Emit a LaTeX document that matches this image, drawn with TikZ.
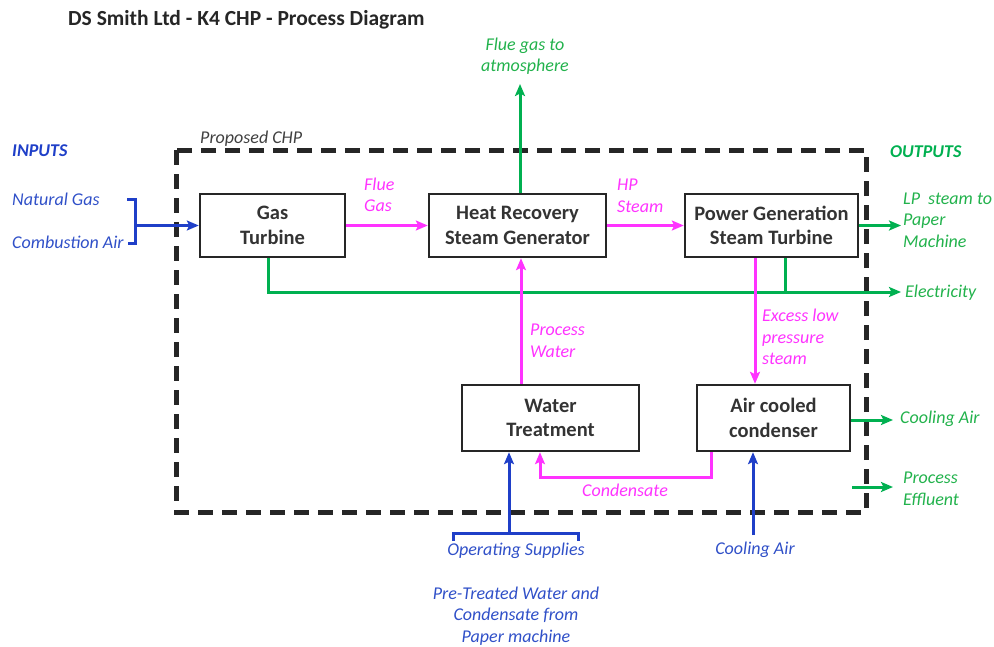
\documentclass[tikz,border=0pt]{standalone}
\usepackage{fontspec}
\setmainfont{Carlito}
\usetikzlibrary{arrows.meta,calc}
\definecolor{cgreen}{HTML}{00B050}
\definecolor{tgreen}{HTML}{22B24C}
\definecolor{cmag}{HTML}{FF33FF}
\definecolor{cblue}{HTML}{1F3FC8}
\definecolor{tblue}{HTML}{3050C8}
\begin{document}
\begin{tikzpicture}[x=1pt,y=-1pt,
  box/.style={draw=black!85,line width=2.4pt,align=center,font=\fontsize{20.5}{24.5}\selectfont\bfseries,text=black!80,inner sep=0pt},
  flow/.style={line width=3pt,-{Stealth[length=12pt,width=10pt,inset=2.5pt]}},
  gline/.style={line width=3pt,draw=cgreen},
  mline/.style={line width=3pt,draw=cmag},
  bline/.style={line width=3pt,draw=cblue},
  lbl/.style={font=\fontsize{18}{21.5}\selectfont\itshape,inner sep=0pt,align=left},
  glbl/.style={lbl,text=tgreen},
  mlbl/.style={lbl,text=cmag},
  blbl/.style={lbl,text=tblue}]
\useasboundingbox (0,0) rectangle (994,646);
% title
\node[anchor=west,font=\fontsize{21.5}{25}\selectfont\bfseries,text=black!85,inner sep=0pt] (title) at (68,20) {DS Smith Ltd - K4 CHP - Process Diagram};
% dashed boundary
\draw[line width=5pt,black!85,dash pattern=on 15pt off 9pt] (176,150) rectangle (866,512);
\node[anchor=west,lbl,text=black!75] (prop) at (200,139) {Proposed CHP};
\node[anchor=west,font=\fontsize{18}{21}\selectfont\bfseries\itshape,text=cblue,inner sep=0pt] (inputs) at (12,151) {INPUTS};
\node[anchor=west,font=\fontsize{18}{21}\selectfont\bfseries\itshape,text=cgreen,inner sep=0pt] (outputs) at (890,152) {OUTPUTS};
% boxes
\node[box,minimum width=145pt,minimum height=63pt] (gt) at (272.5,225.5) {Gas\\Turbine};
\node[box,minimum width=177pt,minimum height=63pt] (hrsg) at (517.5,225.5) {Heat Recovery\\Steam Generator};
\node[box,minimum width=173pt,minimum height=63pt] (pgst) at (771.5,225.5) {Power Generation\\Steam Turbine};
\node[box,minimum width=177pt,minimum height=66pt] (wt) at (550.5,418) {Water\\Treatment};
\node[box,minimum width=153pt,minimum height=66pt] (acc) at (773.5,418) {Air cooled\\condenser};
% inputs
\node[blbl,anchor=west] (ng) at (12,199) {Natural Gas};
\node[blbl,anchor=west] (ca) at (12,242) {Combustion Air};
\coordinate (bt) at (135,199);
\coordinate (bb) at (135,243);
\draw[bline] (127,199) -- (bt) -- (bb) -- (128,243);
\draw[bline,flow,cblue] (gt.west -| bt) -- (gt.west);
% flue gas
\draw[mline,flow,cmag] (gt.east) -- (hrsg.west);
\node[mlbl,anchor=west] (fg) at (364,195) {Flue\\Gas};
% HP steam
\draw[mline,flow,cmag] (hrsg.east) -- (pgst.west);
\node[mlbl,anchor=west] (hp) at (617,196) {HP\\Steam};
% flue gas to atmosphere
\coordinate (atm) at (520,84);
\draw[gline,flow,cgreen] (hrsg.north -| atm) -- (atm);
\node[glbl,align=center] (atmlbl) at (525,56) {Flue gas to\\atmosphere};
% LP steam
\coordinate (lp) at (901,225.5);
\draw[gline,flow,cgreen] (pgst.east) -- (lp);
\node[glbl,anchor=west] (lplbl) at (903,220) {LP\ \ steam to\\Paper\\Machine};
% electricity
\coordinate (el) at (901,292);
\coordinate (gx) at (268,0);
\coordinate (px) at (785,0);
\draw[gline,flow,cgreen] (gt.south -| gx) |- (el);
\draw[gline] (pgst.south -| px) -- (el -| px);
\node[glbl,anchor=west] (ellbl) at (905,293) {Electricity};
% excess low pressure steam
\coordinate (ex) at (755,0);
\draw[mline,flow,cmag] (pgst.south -| ex) -- (acc.north -| ex);
\node[mlbl,anchor=west] (exlbl) at (762,337) {Excess low\\pressure\\steam};
% process water
\coordinate (pw) at (521,0);
\draw[mline,flow,cmag] (wt.north -| pw) -- (hrsg.south -| pw);
\node[mlbl,anchor=west] (pwlbl) at (530,341) {Process\\Water};
% cooling air out
\coordinate (cao) at (893,420);
\draw[gline,flow,cgreen] (acc.east |- cao) -- (cao);
\node[glbl,anchor=west] (caolbl) at (900,419) {Cooling Air};
% process effluent
\coordinate (pe1) at (852,487);
\coordinate (pe2) at (893,487);
\draw[gline,flow,cgreen] (pe1) -- (pe2);
\node[glbl,anchor=west] (pelbl) at (903,489) {Process\\Effluent};
% condensate
\coordinate (c1) at (711,477);
\coordinate (c2) at (540,477);
\draw[mline,flow,cmag] (acc.south -| c1) -- (c1) -- (c2) -- (wt.south -| c2);
\node[mlbl] (condlbl) at (625,490) {Condensate};
% operating supplies
\coordinate (os) at (509,533);
\draw[bline] (453,541) -- (453,533) -- (578,533) -- (578,541);
\draw[bline,flow,cblue] (os) -- (wt.south -| os);
\node[blbl] (oslbl) at (516,551) {Operating Supplies};
% cooling air in
\coordinate (cai) at (753,535);
\draw[bline,flow,cblue] (cai) -- (acc.south -| cai);
\node[blbl] (cailbl) at (755,550) {Cooling Air};
% pre-treated
\node[blbl,align=center] (pre) at (516,616) {Pre-Treated Water and\\Condensate from\\Paper machine};
\end{tikzpicture}
\end{document}
